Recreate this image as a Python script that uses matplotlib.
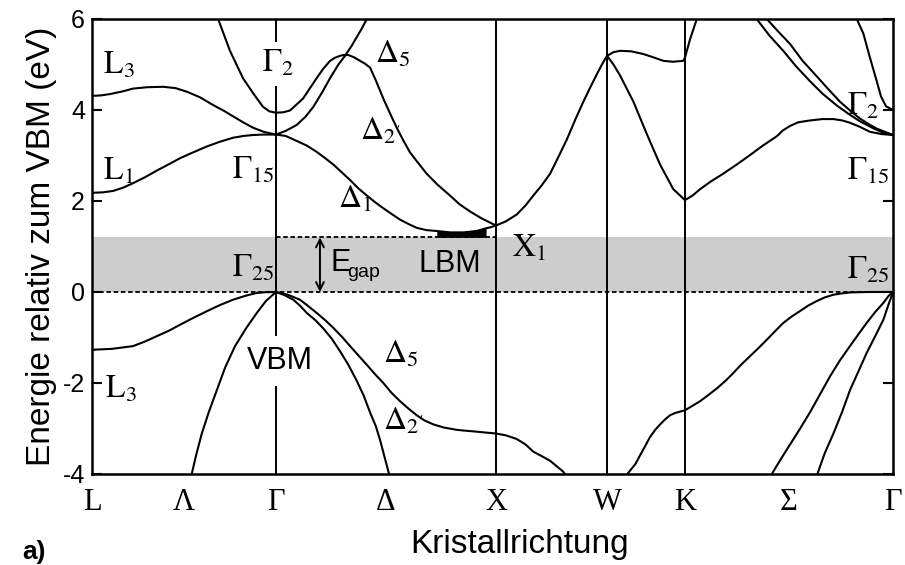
import matplotlib
matplotlib.use("Agg")
import matplotlib.pyplot as plt
import numpy as np

plt.rcParams["font.family"] = ["Liberation Sans", "DejaVu Sans"]
plt.rcParams["mathtext.fontset"] = "stix"

# symmetry points along the path L - Gamma - X - W - K - Gamma (k in units of 2pi/a)
kpts = [0.0, 0.836, 1.836, 2.341, 2.695, 3.641]
tick_labels = ["L", "Λ", "Γ", "Δ", "X", "W", "K", "Σ", "Γ"]
yticks = [-4, -2, 0, 2, 4, 6]
ytick_labels = ["-4", "-2", "0", "2", "4", "6"]
e_gap = 1.2

# conduction bands
c1_k = [0, 0.04, 0.082, 0.14, 0.186, 0.25, 0.323, 0.38, 0.432, 0.49, 0.55, 0.6,
        0.641, 0.69, 0.732, 0.78, 0.836]
c1_e = [4.31, 4.32, 4.35, 4.41, 4.47, 4.50, 4.51, 4.48, 4.40, 4.28, 4.11, 3.98,
        3.86, 3.72, 3.61, 3.52, 3.46]
c2_k = [0, 0.05, 0.095, 0.14, 0.186, 0.24, 0.295, 0.35, 0.4, 0.46, 0.523, 0.58,
        0.641, 0.69, 0.732, 0.78, 0.836]
c2_e = [2.18, 2.19, 2.22, 2.29, 2.39, 2.52, 2.67, 2.81, 2.94, 3.07, 3.20, 3.30,
        3.39, 3.43, 3.45, 3.46, 3.46]
c3_k = [0.573, 0.627, 0.686, 0.732, 0.777, 0.806, 0.836, 0.87, 0.9, 0.959, 1.021,
        1.05, 1.082, 1.105, 1.127, 1.145, 1.164, 1.19, 1.218, 1.24, 1.264, 1.29,
        1.324, 1.355, 1.385, 1.415, 1.445, 1.48, 1.521, 1.57, 1.627, 1.67, 1.718,
        1.77, 1.836]
c3_e = [6.0, 5.30, 4.70, 4.37, 4.07, 3.97, 3.94, 3.95, 3.99, 4.25, 4.70,
        4.90, 5.08, 5.15, 5.19, 5.21, 5.21, 5.16, 5.08, 5.02, 4.93, 4.65,
        4.25, 3.92, 3.61, 3.33, 3.07, 2.85, 2.60, 2.36, 2.12, 1.93, 1.77,
        1.62, 1.46]
c4_k = [0.836, 0.88, 0.93, 0.97, 1.006, 1.045, 1.082, 1.12, 1.15, 1.18, 1.203,
        1.225, 1.249]
c4_e = [3.46, 3.54, 3.67, 3.85, 4.07, 4.38, 4.70, 5.0, 5.19, 5.41, 5.60,
        5.78, 6.0]
c5_k = [0.836, 0.88, 0.93, 0.975, 1.021, 1.06, 1.097, 1.135, 1.173, 1.21, 1.249,
        1.29, 1.324, 1.36, 1.4, 1.44, 1.476, 1.52, 1.567, 1.627, 1.688, 1.748,
        1.791, 1.81, 1.836]
c5_e = [3.46, 3.43, 3.32, 3.22, 3.08, 2.94, 2.80, 2.63, 2.46, 2.28, 2.12,
        1.96, 1.84, 1.72, 1.59, 1.49, 1.41, 1.36, 1.34, 1.31, 1.31, 1.34,
        1.40, 1.42, 1.46]
c6_k = [1.836, 1.88, 1.93, 1.97, 2.006, 2.045, 2.082, 2.12, 2.158, 2.195, 2.233,
        2.265, 2.294, 2.32, 2.341]
c6_e = [1.46, 1.55, 1.70, 1.90, 2.12, 2.35, 2.60, 2.97, 3.35, 3.77, 4.18,
        4.50, 4.78, 5.02, 5.19]
c7_k = [2.341, 2.37, 2.4, 2.45, 2.506, 2.55, 2.597, 2.64, 2.688, 2.695, 2.718, 2.749]
c7_e = [5.19, 5.27, 5.30, 5.29, 5.23, 5.16, 5.08, 5.06, 5.08, 5.15, 5.55, 6.0]
c8_k = [2.341, 2.37, 2.4, 2.461, 2.521, 2.582, 2.642, 2.695, 2.73, 2.764, 2.81,
        2.869, 2.93, 2.991, 3.05, 3.112, 3.14, 3.173, 3.21, 3.264, 3.32, 3.37,
        3.41, 3.445, 3.49, 3.536, 3.59, 3.641]
c8_e = [5.19, 5.0, 4.76, 4.18, 3.48, 2.80, 2.26, 2.02, 2.12, 2.26, 2.42,
        2.60, 2.80, 3.01, 3.22, 3.42, 3.55, 3.65, 3.73, 3.77, 3.80, 3.80,
        3.77, 3.72, 3.63, 3.52, 3.47, 3.45]
c9_k = [3.021, 3.08, 3.142, 3.2, 3.264, 3.32, 3.385, 3.44, 3.491, 3.55, 3.597, 3.641]
c9_e = [6.0, 5.63, 5.30, 4.96, 4.63, 4.36, 4.10, 3.91, 3.75, 3.60, 3.50, 3.45]
c10_k = [3.067, 3.12, 3.173, 3.23, 3.294, 3.35, 3.4, 3.45, 3.491, 3.53, 3.567, 3.641]
c10_e = [6.0, 5.72, 5.45, 5.08, 4.74, 4.44, 4.18, 3.97, 3.81, 3.69, 3.59, 3.45]
c11_k = [3.476, 3.506, 3.536, 3.567, 3.586, 3.609, 3.641]
c11_e = [6.0, 5.68, 5.15, 4.63, 4.30, 4.08, 4.0]

# valence bands
v1_k = [0, 0.09, 0.186, 0.24, 0.295, 0.35, 0.4, 0.46, 0.523, 0.58, 0.641, 0.70,
        0.75, 0.79, 0.836]
v1_e = [-1.27, -1.25, -1.19, -1.09, -0.97, -0.85, -0.72, -0.57, -0.42, -0.29, -0.17,
        -0.08, -0.02, -0.005, 0]
v2_k = [0.453, 0.475, 0.499, 0.53, 0.567, 0.605, 0.65, 0.70, 0.749, 0.79, 0.836]
v2_e = [-4.0, -3.55, -3.11, -2.65, -2.16, -1.66, -1.19, -0.80, -0.46, -0.20, 0]
v3_k = [0.836, 0.89, 0.945, 0.98, 1.021, 1.06, 1.097, 1.135, 1.173, 1.21, 1.249,
        1.285, 1.324, 1.36, 1.4, 1.44, 1.476, 1.51, 1.551, 1.60, 1.658, 1.70,
        1.748, 1.79, 1.836, 1.88, 1.93, 1.97, 2.006, 2.045, 2.082, 2.142, 2.155]
v3_e = [0, -0.06, -0.17, -0.30, -0.46, -0.62, -0.79, -0.98, -1.19, -1.39, -1.60,
        -1.80, -2.0, -2.21, -2.40, -2.57, -2.71, -2.82, -2.91, -2.98, -3.03, -3.05,
        -3.07, -3.09, -3.11, -3.15, -3.23, -3.35, -3.51, -3.61, -3.71, -3.95, -4.05]
v4_k = [0.836, 0.875, 0.915, 0.945, 0.976, 1.015, 1.051, 1.09, 1.127, 1.165,
        1.203, 1.235, 1.264, 1.29, 1.309, 1.35]
v4_e = [0, -0.07, -0.17, -0.30, -0.46, -0.62, -0.80, -1.03, -1.30, -1.60,
        -1.95, -2.28, -2.65, -2.95, -3.25, -4.0]
v5_k = [2.425, 2.445, 2.47, 2.491, 2.515, 2.536, 2.56, 2.582, 2.605, 2.627, 2.65,
        2.695, 2.73, 2.764, 2.80, 2.84, 2.88, 2.915, 2.95, 2.991, 3.03, 3.067,
        3.105, 3.142, 3.18, 3.218, 3.255, 3.294, 3.33, 3.37, 3.41, 3.445, 3.49,
        3.536, 3.641]
v5_e = [-4.05, -3.93, -3.78, -3.59, -3.38, -3.19, -3.03, -2.91, -2.80, -2.71, -2.66,
        -2.60, -2.50, -2.40, -2.27, -2.12, -1.95, -1.78, -1.60, -1.41, -1.23, -1.05,
        -0.86, -0.68, -0.54, -0.42, -0.30, -0.20, -0.12, -0.06, -0.03, -0.01, -0.005,
        0, 0]
v6_k = [3.09, 3.13, 3.173, 3.22, 3.264, 3.31, 3.355, 3.40, 3.445, 3.485, 3.521,
        3.56, 3.597, 3.62, 3.641]
v6_e = [-4.0, -3.68, -3.35, -2.99, -2.64, -2.24, -1.85, -1.50, -1.19, -0.92, -0.68,
        -0.44, -0.24, -0.09, 0]
v7_k = [3.297, 3.33, 3.37, 3.41, 3.445, 3.485, 3.521, 3.56, 3.597, 3.62, 3.641]
v7_e = [-4.0, -3.55, -3.11, -2.63, -2.16, -1.73, -1.34, -0.97, -0.61, -0.28, 0]

bands = [(c1_k, c1_e), (c2_k, c2_e), (c3_k, c3_e), (c4_k, c4_e), (c5_k, c5_e),
         (c6_k, c6_e), (c7_k, c7_e), (c8_k, c8_e), (c9_k, c9_e), (c10_k, c10_e),
         (c11_k, c11_e), (v1_k, v1_e), (v2_k, v2_e), (v3_k, v3_e), (v4_k, v4_e),
         (v5_k, v5_e), (v6_k, v6_e), (v7_k, v7_e)]

fig = plt.figure(figsize=(9.05, 5.65), dpi=100)
ax = fig.add_axes([0.1017, 0.1611, 0.8851, 0.8053])

# band gap region
ax.axhspan(0, e_gap, color="#cdcdcd", lw=0, zorder=0)
ax.axhline(0, color="black", lw=1.3, ls=(0, (2.5, 1.5)), zorder=2)
ax.hlines(e_gap, kpts[1], kpts[2], color="black", lw=1.3, ls=(0, (2.5, 1.5)), zorder=2)

for k in kpts[1:-1]:
    ax.axvline(k, color="black", lw=1.4, zorder=1)

for k, e in bands:
    ax.plot(k, e, color="black", lw=1.5, zorder=3,
            solid_capstyle="round", solid_joinstyle="round")

# conduction band minimum near X
k5 = np.array(c5_k)
ax.fill_between(k5, c5_e, e_gap, where=(k5 >= 1.56) & (k5 <= 1.80),
                color="black", lw=0, zorder=3)

ax.annotate("", xy=(1.036, e_gap), xytext=(1.036, 0),
            arrowprops=dict(arrowstyle="<->", color="black", lw=1.4,
                            shrinkA=0, shrinkB=0, mutation_scale=14), zorder=4)

# band labels
serif = dict(fontsize=23, ha="left", va="baseline", zorder=4)
ax.text(0.05, 4.79, r"$\mathrm{L}_3$", **serif)
ax.text(0.05, 2.47, r"$\mathrm{L}_1$", **serif)
ax.text(0.773, 4.83, r"$\Gamma_2$", bbox=dict(fc="white", ec="none", pad=5),
        fontsize=23, ha="left", va="baseline", zorder=2)
ax.text(0.636, 2.49, r"$\Gamma_{15}$", **serif)
ax.text(1.286, 5.03, r"$\Delta_5$", **serif)
ax.text(1.218, 3.35, r"$\Delta_{2'}$", **serif)
ax.text(1.118, 1.85, r"$\Delta_1$", **serif)
ax.text(0.636, 0.34, r"$\Gamma_{25}$", **serif)
ax.text(1.909, 0.77, r"$\mathrm{X}_1$", **serif)
ax.text(1.323, -1.56, r"$\Delta_5$", **serif)
ax.text(1.323, -3.02, r"$\Delta_{2'}$", **serif)
ax.text(0.059, -2.33, r"$\mathrm{L}_3$", **serif)
ax.text(3.432, 3.90, r"$\Gamma_2$", **serif)
ax.text(3.432, 2.47, r"$\Gamma_{15}$", **serif)
ax.text(3.432, 0.30, r"$\Gamma_{25}$", **serif)

ax.text(1.482, 0.45, "LBM", fontsize=22, ha="left", va="baseline", zorder=4)
ax.text(0.705, -1.69, "VBM", fontsize=22, ha="left", va="baseline", zorder=2,
        bbox=dict(fc="white", ec="none", pad=7))
ax.text(1.082, 0.47, "E", fontsize=22, ha="left", va="baseline", zorder=4)
ax.text(1.159, 0.34, "gap", fontsize=14, ha="left", va="baseline", zorder=4)

# axes
tick_pos = [kpts[0], (kpts[0] + kpts[1]) / 2, kpts[1], (kpts[1] + kpts[2]) / 2,
            kpts[2], kpts[3], kpts[4], (kpts[4] + kpts[5]) / 2, kpts[5]]
ax.set_xlim(kpts[0], kpts[-1])
ax.set_ylim(-4, 6)
ax.set_xticks(tick_pos)
ax.set_xticklabels(tick_labels, fontfamily="Liberation Serif", fontsize=22)
ax.tick_params(axis="x", length=0, pad=10)
ax.set_yticks(yticks)
ax.set_yticklabels(ytick_labels)
ax.tick_params(axis="y", direction="in", length=7, width=1.5, left=True, right=True,
               labelsize=18, pad=5)
for s in ax.spines.values():
    s.set_linewidth(1.8)

ax.set_ylabel("Energie relativ zum VBM (eV)", fontsize=24, labelpad=4)
fig.text(520 / 905, 1 - 545 / 565, "Kristallrichtung", fontsize=24,
         ha="center", va="center")
fig.text(22 / 905, 1 - 552 / 565, "a)", fontsize=19, fontweight="bold",
         ha="left", va="center")

fig.savefig("out.png", dpi=100)
